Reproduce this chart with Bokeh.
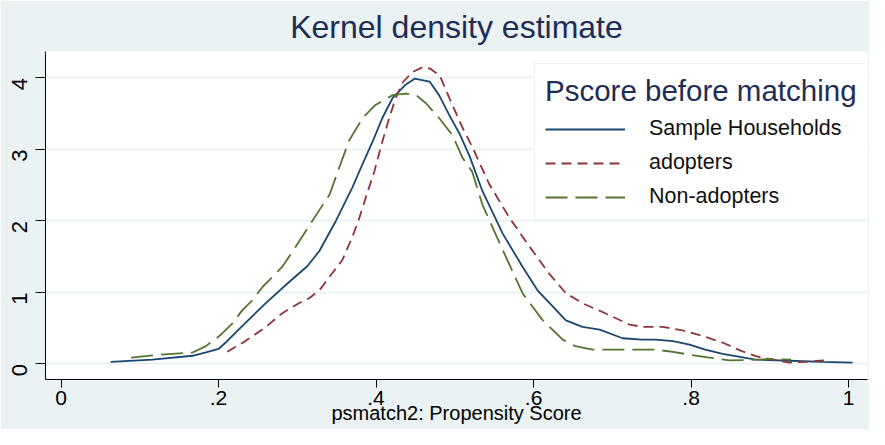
import math
from bokeh.plotting import figure
from bokeh.models import Legend, LegendItem, FixedTicker, Range1d
from bokeh.embed import file_html
from bokeh.resources import INLINE

# ---- data ----
x_ticks = [0, 0.2, 0.4, 0.6, 0.8, 1.0]
x_tick_labels = ["0", ".2", ".4", ".6", ".8", "1"]
y_ticks = [0, 1, 2, 3, 4]
y_tick_labels = ["0", "1", "2", "3", "4"]

sample_x = [0.063, 0.116, 0.167, 0.183, 0.2, 0.209, 0.23, 0.26, 0.29, 0.313, 0.328, 0.349,
            0.37, 0.383, 0.396, 0.408, 0.421, 0.437, 0.449, 0.468, 0.48, 0.493, 0.506, 0.519,
            0.535, 0.561, 0.586, 0.605, 0.624, 0.641, 0.662, 0.684, 0.713, 0.738, 0.755, 0.777,
            0.798, 0.818, 0.84, 0.862, 0.882, 0.925, 0.967, 1.005]
sample_y = [0.03, 0.06, 0.115, 0.16, 0.21, 0.3, 0.53, 0.85, 1.15, 1.37, 1.58, 2.0,
            2.47, 2.8, 3.12, 3.44, 3.72, 3.9, 3.99, 3.95, 3.76, 3.48, 3.22, 2.9,
            2.42, 1.82, 1.36, 1.03, 0.81, 0.61, 0.52, 0.48, 0.36, 0.34, 0.34, 0.32,
            0.27, 0.2, 0.14, 0.1, 0.06, 0.045, 0.03, 0.02]

adopt_x = [0.211, 0.234, 0.258, 0.281, 0.302, 0.315, 0.328, 0.341, 0.357, 0.370, 0.379, 0.387,
           0.398, 0.408, 0.417, 0.425, 0.434, 0.446, 0.459, 0.469, 0.481, 0.488, 0.497, 0.51,
           0.522, 0.544, 0.569, 0.595, 0.620, 0.641, 0.662, 0.691, 0.722, 0.738, 0.764, 0.789,
           0.815, 0.84, 0.862, 0.882, 0.904, 0.925, 0.946, 0.967, 0.975]
adopt_y = [0.17, 0.32, 0.5, 0.71, 0.85, 0.92, 1.03, 1.22, 1.45, 1.78, 2.05, 2.33,
           2.7, 3.11, 3.45, 3.72, 3.94, 4.08, 4.15, 4.13, 4.03, 3.85, 3.62, 3.3,
           3.04, 2.51, 2.05, 1.64, 1.26, 0.99, 0.85, 0.71, 0.55, 0.52, 0.52, 0.47,
           0.39, 0.3, 0.19, 0.11, 0.06, 0.02, 0.03, 0.05, 0.04]

nonadopt_x = [0.089, 0.125, 0.167, 0.184, 0.201, 0.218, 0.23, 0.243, 0.256, 0.269, 0.281, 0.298,
              0.319, 0.341, 0.353, 0.366, 0.383, 0.399, 0.421, 0.437, 0.45, 0.463, 0.48, 0.497,
              0.51, 0.522, 0.535, 0.561, 0.586, 0.611, 0.637, 0.653, 0.675, 0.717, 0.755, 0.777,
              0.798, 0.823, 0.849, 0.882, 0.904, 0.927]
nonadopt_y = [0.09, 0.13, 0.16, 0.25, 0.39, 0.57, 0.75, 0.89, 1.08, 1.22, 1.36, 1.64,
              2.0, 2.37, 2.74, 3.13, 3.44, 3.62, 3.76, 3.78, 3.77, 3.65, 3.44, 3.2,
              2.88, 2.69, 2.23, 1.59, 0.99, 0.62, 0.34, 0.25, 0.2, 0.2, 0.2, 0.17,
              0.13, 0.09, 0.05, 0.06, 0.07, 0.06]

series_labels = ["Sample Households", "adopters", "Non-adopters"]

# ---- styling ----
BG = "#EAF2F3"
NAVY = "#1A476F"
MAROON = "#90353B"
GREEN = "#55752F"
TITLE_C = "#1E2D55"
FONT = "Liberation Sans"

x_lo, x_hi = -0.0197, 1.024
y_lo, y_hi = -0.217, 4.37

p = figure(width=869, height=429, output_backend="svg", toolbar_location=None,
           x_range=Range1d(x_lo, x_hi), y_range=Range1d(y_lo, y_hi),
           min_border_left=45, min_border_right=2, min_border_top=48, min_border_bottom=50)

p.background_fill_color = "white"
p.border_fill_color = BG
p.outline_line_color = None

p.title.text = "Kernel density estimate"
p.title.align = "center"
p.title.text_font = FONT
p.title.text_font_size = "32px"
p.title.text_font_style = "normal"
p.title.text_color = TITLE_C
p.title.standoff = 13

p.xgrid.visible = False
p.ygrid.grid_line_color = BG
p.ygrid.grid_line_width = 2

for ax in (p.xaxis[0], p.yaxis[0]):
    ax.axis_line_color = "black"
    ax.major_tick_line_color = "black"
    ax.minor_tick_line_color = None
    ax.major_tick_in = 0
    ax.major_label_text_font = FONT
    ax.major_label_text_color = "black"

p.xaxis.ticker = FixedTicker(ticks=x_ticks)
p.xaxis.major_label_overrides = dict(zip(x_ticks, x_tick_labels))
p.xaxis.major_tick_out = 8
p.xaxis.major_label_standoff = 3
p.xaxis.major_label_text_font_size = "21px"
p.xaxis.axis_label = "psmatch2: Propensity Score"
p.xaxis.axis_label_text_font = FONT
p.xaxis.axis_label_text_font_size = "20px"
p.xaxis.axis_label_text_font_style = "normal"
p.xaxis.axis_label_text_color = "black"
p.xaxis.axis_label_standoff = -6

p.yaxis.ticker = FixedTicker(ticks=y_ticks)
p.yaxis.major_label_overrides = dict(zip(y_ticks, y_tick_labels))
p.yaxis.major_tick_out = 10
p.yaxis.major_label_standoff = 16
p.yaxis.major_label_text_font_size = "22px"
p.yaxis.major_label_orientation = math.pi / 2

r1 = p.line(sample_x, sample_y, line_color=NAVY, line_width=1.8)
r2 = p.line(adopt_x, adopt_y, line_color=MAROON, line_width=1.8, line_dash="10 6")
r3 = p.line(nonadopt_x, nonadopt_y, line_color=GREEN, line_width=1.8, line_dash="22 8")

legend = Legend(
    items=[LegendItem(label=series_labels[0], renderers=[r1]),
           LegendItem(label=series_labels[1], renderers=[r2]),
           LegendItem(label=series_labels[2], renderers=[r3])],
    location=(489, 159),
    title="Pscore before matching",
    title_text_font=FONT, title_text_font_size="29.5px", title_text_font_style="normal",
    title_text_color=TITLE_C, title_standoff=8,
    label_text_font=FONT, label_text_font_size="21.5px", label_text_color="#111111",
    glyph_width=80, glyph_height=20, label_height=20, label_standoff=24, spacing=9,
    padding=10, margin=0,
    background_fill_color="white", background_fill_alpha=1.0,
    border_line_color="#DCE6E8", border_line_width=1,
)
p.add_layout(legend)

open("out.html", "w").write(file_html(p, INLINE))
